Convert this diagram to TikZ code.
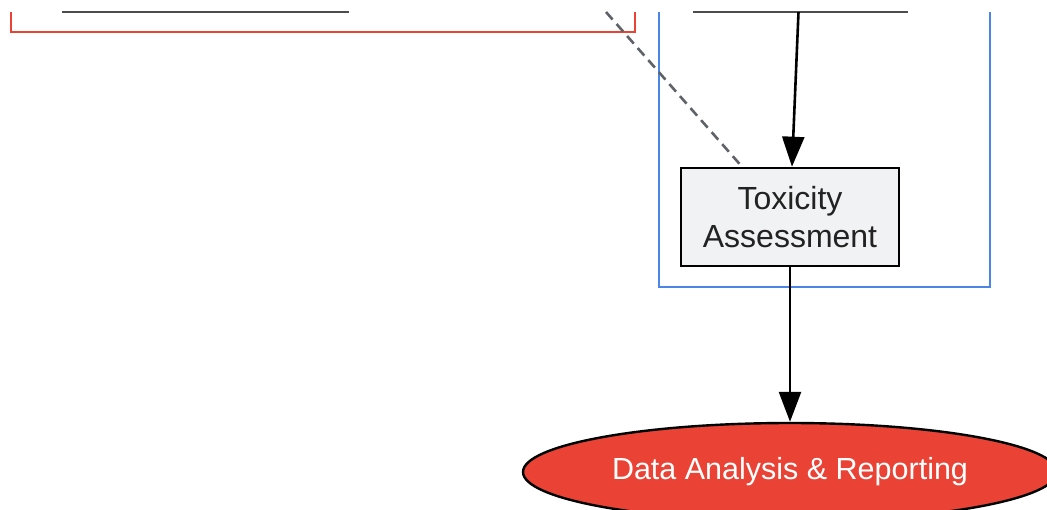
\documentclass[tikz,border=0pt]{standalone}
\usepackage{fontspec}
\setmainfont{Liberation Sans}
\usetikzlibrary{arrows.meta,shapes.geometric}
\definecolor{frred}{HTML}{EA4335}
\definecolor{frblue}{HTML}{4A86E8}
\definecolor{boxfill}{HTML}{F1F2F4}
\definecolor{dashgray}{HTML}{5F6368}
\definecolor{txt}{HTML}{222222}
\tikzset{
  frame/.style={line width=2.8pt},
  cutedge/.style={draw=black!70, line width=1.2pt},
  procbox/.style={draw=black, fill=boxfill, line width=2.6pt, rectangle, inner sep=0pt,
    minimum width=218pt, minimum height=98pt, align=center, text=txt,
    font=\fontsize{32}{38}\selectfont},
  endnode/.style={draw=black, fill=frred, line width=2.4pt, ellipse, inner sep=0pt,
    minimum width=534pt, minimum height=98pt, text=white,
    font=\fontsize{30.5}{36}\selectfont},
  flow/.style={line width=2.6pt, -{Triangle[length=30pt,width=22pt]}},
  link/.style={line width=2.6pt, dashgray, dash pattern=on 10pt off 6pt},
}
\begin{document}
\begin{tikzpicture}[x=1pt,y=-1pt]
\useasboundingbox (0,0) rectangle (1047,509);
\clip (0,0) rectangle (1047,509);
\fill[white] (0,0) rectangle (1047,509);
% group frames (cut at top)
\draw[frame, frred] (11,12) -- (11,32) -- (635,32) -- (635,12);
\draw[frame, frblue] (659,12) -- (659,287) -- (990,287) -- (990,12);
% bottom edges of nodes cut off above
\draw[cutedge] (62,12) -- (349,12);
\draw[cutedge] (693,12) -- (908,12);
\coordinate (fromleft) at (606,12);
\coordinate (fromtop) at (798.5,12);
% nodes
\node[procbox] (tox) at (790,217) {Toxicity\\Assessment};
\node[endnode] (data) at (790,472) {Data Analysis \& Reporting};
% connectors
\draw[link] (fromleft) -- (tox.north west -| 742,0);
\draw[flow] (fromtop) -- (tox.north -| 792,0);
\draw[flow] (tox.south) -- (data.north);
\end{tikzpicture}
\end{document}
